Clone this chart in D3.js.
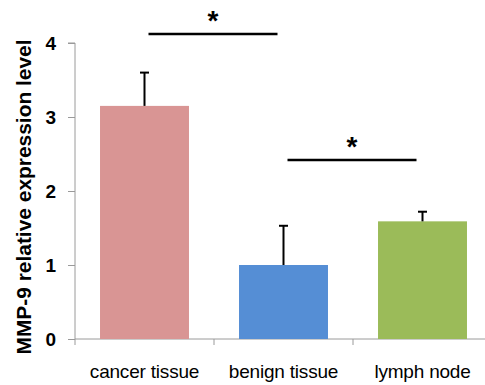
<!DOCTYPE html>
<html>
<head>
<meta charset="utf-8">
<script src="https://cdn.jsdelivr.net/npm/d3@7"></script>
<style>
body { margin: 0; background: #fff; }
text { font-family: "Liberation Sans", Arial, sans-serif; }
</style>
</head>
<body>
<div id="chart"></div>
<script>
// data
var categories = ["cancer tissue", "benign tissue", "lymph node"]
var means = [3.15, 1.0, 1.59]
var errors = [0.45, 0.53, 0.13]
var colors = ["#d99594", "#558ed5", "#9bbb59"]
var yTicks = [0, 1, 2, 3, 4]
// significance brackets: pair of categories and height (in data units)
var sigPairs = [
	{from: "cancer tissue", to: "benign tissue", level: 4.12},
	{from: "benign tissue", to: "lymph node", level: 2.42}
]

var width = 485, height = 385
var margin = {top: 43, left: 75, bottom: 46}

const svg = d3.select("#chart")
	.append("svg")
	.attr("width", width)
	.attr("height", height)

const x = d3.scaleBand()
	.domain(categories)
	.range([margin.left, margin.left + 139 * 3])
	.paddingInner(0.36)
	.paddingOuter(0.18)

const y = d3.scaleLinear()
	.domain([0, 4])
	.range([height - margin.bottom, margin.top])

// y axis
const yAxis = svg.append("g")
	.attr("transform", `translate(${margin.left},0)`)
	.call(d3.axisLeft(y).tickValues(yTicks).tickSize(7).tickPadding(12).tickFormat(d3.format("d")))
yAxis.select(".domain").attr("stroke", "#9a9a9a").attr("d", `M-7,${y(4)}H0V${y(0)}`)
yAxis.selectAll(".tick line").attr("stroke", "#9a9a9a")
yAxis.selectAll(".tick text")
	.attr("font-size", 19)
	.attr("font-weight", "bold")
	.attr("fill", "#000")
	.attr("font-family", "Liberation Sans, Arial, sans-serif")

// x axis line with category boundary ticks
svg.append("line")
	.attr("x1", margin.left).attr("x2", width)
	.attr("y1", y(0)).attr("y2", y(0))
	.attr("stroke", "#9a9a9a")
var bounds = [0, 1, 2].map(i => margin.left + 139 * i)
svg.selectAll(".xtick")
	.data(bounds)
	.join("line")
	.attr("x1", d => d).attr("x2", d => d)
	.attr("y1", y(0)).attr("y2", y(0) + 6)
	.attr("stroke", "#9a9a9a")

svg.selectAll(".xlabel")
	.data(categories)
	.join("text")
	.attr("x", d => x(d) + x.bandwidth() / 2)
	.attr("y", y(0) + 39)
	.attr("text-anchor", "middle")
	.attr("font-size", 19)
	.attr("letter-spacing", -0.2)
	.text(d => d)

// bars
svg.selectAll(".bar")
	.data(categories)
	.join("rect")
	.attr("x", d => x(d))
	.attr("width", x.bandwidth())
	.attr("y", (d, i) => y(means[i]))
	.attr("height", (d, i) => y(0) - y(means[i]))
	.attr("fill", (d, i) => colors[i])

// error bars (upper only)
var eb = svg.selectAll(".err")
	.data(categories)
	.join("g")
eb.append("line")
	.attr("x1", d => x(d) + x.bandwidth() / 2)
	.attr("x2", d => x(d) + x.bandwidth() / 2)
	.attr("y1", (d, i) => y(means[i]))
	.attr("y2", (d, i) => y(means[i] + errors[i]))
	.attr("stroke", "#000")
	.attr("stroke-width", 2)
eb.append("line")
	.attr("x1", d => x(d) + x.bandwidth() / 2 - 4.5)
	.attr("x2", d => x(d) + x.bandwidth() / 2 + 4.5)
	.attr("y1", (d, i) => y(means[i] + errors[i]))
	.attr("y2", (d, i) => y(means[i] + errors[i]))
	.attr("stroke", "#000")
	.attr("stroke-width", 2)

// significance brackets
var sg = svg.selectAll(".sig")
	.data(sigPairs)
	.join("g")
sg.append("line")
	.attr("x1", d => x(d.from) + x.bandwidth() / 2 + 4)
	.attr("x2", d => x(d.to) + x.bandwidth() / 2 - 6)
	.attr("y1", d => y(d.level))
	.attr("y2", d => y(d.level))
	.attr("stroke", "#000")
	.attr("stroke-width", 2.5)
sg.append("text")
	.attr("x", d => (x(d.from) + x(d.to)) / 2 + x.bandwidth() / 2 - 1)
	.attr("y", d => y(d.level) - 4)
	.attr("text-anchor", "middle")
	.attr("font-size", 28)
	.attr("font-weight", "bold")
	.text("*")

// y label
svg.append("text")
	.attr("transform", `translate(31,${(y(0) + y(4)) / 2 + 6}) rotate(-90)`)
	.attr("text-anchor", "middle")
	.attr("font-size", 20)
	.attr("font-weight", "bold")
	.attr("textLength", 315)
	.attr("lengthAdjust", "spacingAndGlyphs")
	.text("MMP-9 relative expression level")
</script>
</body>
</html>
